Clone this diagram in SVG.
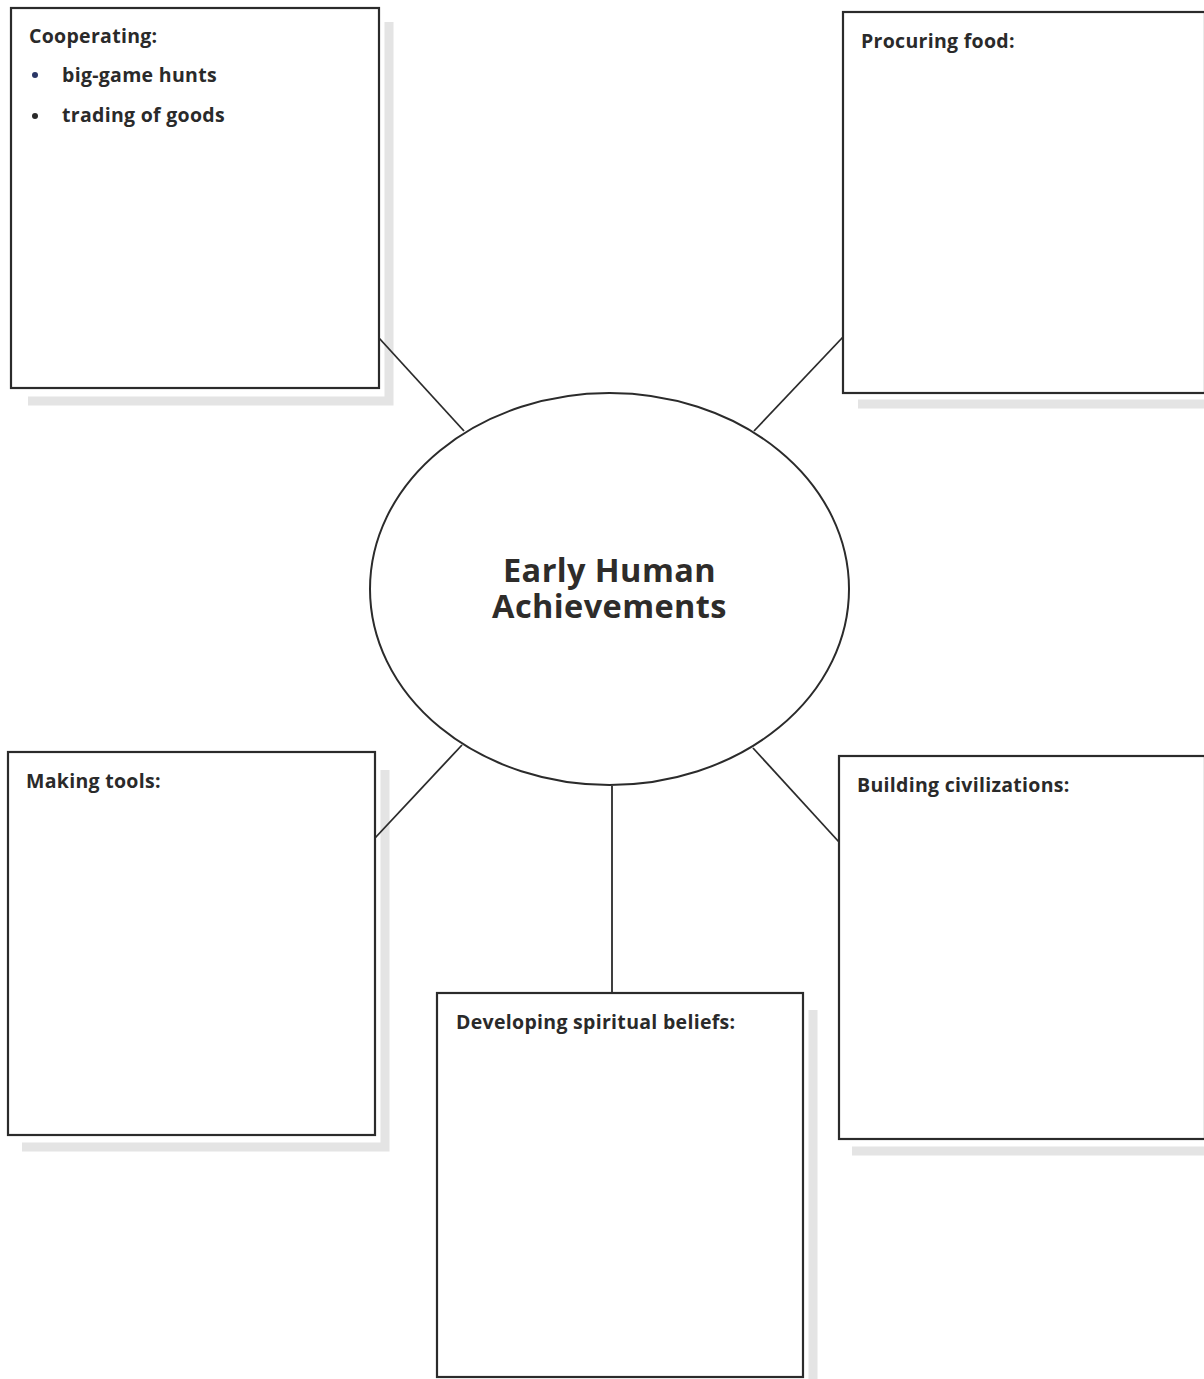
<svg xmlns="http://www.w3.org/2000/svg" width="1204" height="1379" viewBox="0 0 1204 1379">
<style>
.box{fill:#fff;stroke:#2b2b2b;stroke-width:2.2}
.shadow{fill:none;stroke:#e4e4e4;stroke-width:9}
.conn{stroke:#2b2b2b;stroke-width:1.8;fill:none}
.lbl{font-family:"Open Sans","DejaVu Sans",sans-serif;font-weight:bold;font-size:19.5px;letter-spacing:0.3px;fill:#2a2a2a}
.title{font-family:"Open Sans","DejaVu Sans",sans-serif;font-weight:bold;font-size:32.5px;letter-spacing:0.4px;fill:#2e2c2a;text-anchor:middle}
</style>
<rect width="1204" height="1379" fill="#fff"/>
<g id="shadows">
<polyline class="shadow" points="389,22 389,401 28,401"/>
<polyline class="shadow" points="858,404 1204,404"/>
<polyline class="shadow" points="385,770 385,1147 22,1147"/>
<polyline class="shadow" points="813,1010 813,1379"/>
<polyline class="shadow" points="852,1151 1204,1151"/>
</g>
<g id="connectors">
<line class="conn" x1="379" y1="338" x2="464" y2="431"/>
<line class="conn" x1="843" y1="337" x2="754" y2="431"/>
<line class="conn" x1="462" y1="745" x2="375" y2="838"/>
<line class="conn" x1="753" y1="748" x2="839" y2="842"/>
<line class="conn" x1="612" y1="786" x2="612" y2="993"/>
</g>
<g id="center">
<ellipse cx="609.5" cy="589" rx="239.5" ry="196" fill="#fff" stroke="#2b2b2b" stroke-width="2"/>
<text class="title" x="609.5" y="582">Early Human</text>
<text class="title" x="609.5" y="618">Achievements</text>
</g>
<g id="cooperating">
<rect class="box" x="11" y="8" width="368" height="380"/>
<text class="lbl" x="29" y="43">Cooperating:</text>
<circle cx="35" cy="75" r="3" fill="#2a3766"/>
<text class="lbl" x="62" y="82">big-game hunts</text>
<circle cx="35" cy="116" r="3" fill="#2a2a2a"/>
<text class="lbl" x="62" y="122">trading of goods</text>
</g>
<g id="procuring">
<rect class="box" x="843" y="12" width="362" height="381"/>
<text class="lbl" x="861" y="48">Procuring food:</text>
</g>
<g id="making">
<rect class="box" x="8" y="752" width="367" height="383"/>
<text class="lbl" x="26" y="788">Making tools:</text>
</g>
<g id="developing">
<rect class="box" x="437" y="993" width="366" height="384"/>
<text class="lbl" x="456" y="1029">Developing spiritual beliefs:</text>
</g>
<g id="building">
<rect class="box" x="839" y="756" width="366" height="383"/>
<text class="lbl" x="857" y="792">Building civilizations:</text>
</g>
</svg>
